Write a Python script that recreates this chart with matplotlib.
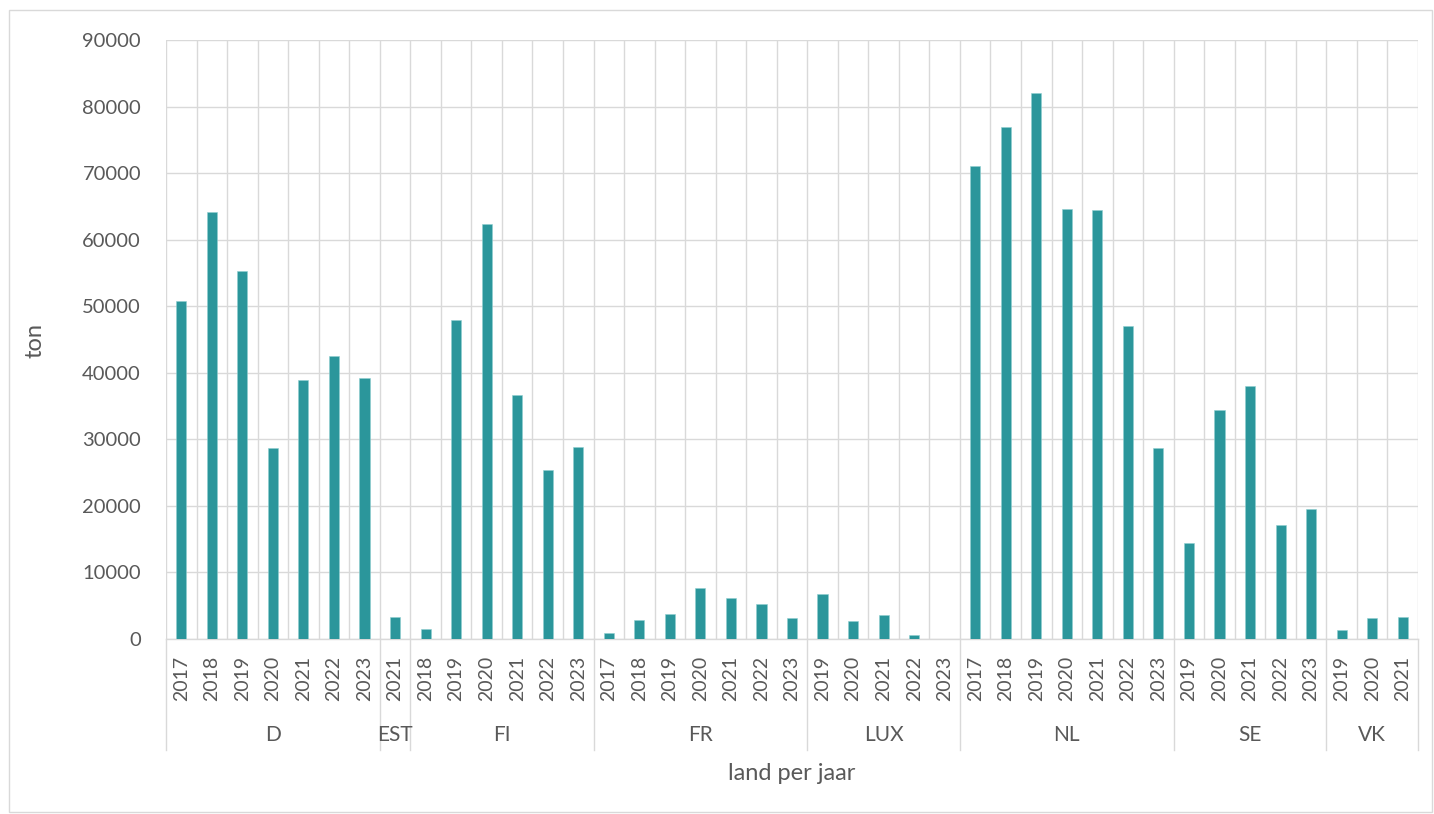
import matplotlib
matplotlib.use("Agg")
from matplotlib import pyplot as plt
from matplotlib.patches import Rectangle
import numpy as np

plt.rcParams['font.family'] = ['Lato', 'DejaVu Sans']

# data: tonnage per country per year
countries = ['D', 'EST', 'FI', 'FR', 'LUX', 'NL', 'SE', 'VK']
years = [
    ['2017', '2018', '2019', '2020', '2021', '2022', '2023'],
    ['2021'],
    ['2018', '2019', '2020', '2021', '2022', '2023'],
    ['2017', '2018', '2019', '2020', '2021', '2022', '2023'],
    ['2019', '2020', '2021', '2022', '2023'],
    ['2017', '2018', '2019', '2020', '2021', '2022', '2023'],
    ['2019', '2020', '2021', '2022', '2023'],
    ['2019', '2020', '2021'],
]
values = [
    [50800, 64200, 55300, 28700, 38900, 42500, 39200],
    [3250],
    [1450, 47950, 62400, 36700, 25400, 28900],
    [850, 2850, 3700, 7700, 6200, 5300, 3100],
    [6800, 2750, 3650, 650, 0],
    [71000, 76900, 82000, 64600, 64400, 47000, 28700],
    [14450, 34400, 38000, 17200, 19500],
    [1300, 3100, 3300],
]

bar_color = '#2b969b'
grid_color = '#d9d9d9'
text_color = '#595959'

year_labels = [y for ys in years for y in ys]
heights = [v for vs in values for v in vs]
x = np.arange(len(heights))

fig = plt.figure(figsize=(14.34, 8.14), dpi=100)
ax = fig.add_axes([166/1434, 1-639/814, (1418-166)/1434, (639-40)/814])

ax.bar(x, heights, width=0.33, color=bar_color, edgecolor='#8fcfd1', linewidth=0.4, zorder=3)

ax.set_xlim(-0.5, len(heights) - 0.5)
ax.set_ylim(0, 90000)
ax.set_yticks(np.arange(0, 90001, 10000))
ax.set_yticklabels([str(v) for v in range(0, 90001, 10000)])

ax.set_xticks(x)
ax.set_xticklabels(year_labels, rotation=90)
ax.set_xticks(np.arange(-0.5, len(heights), 1.0), minor=True)

ax.tick_params(axis='both', which='both', length=0, colors=text_color, labelsize=14)
ax.tick_params(axis='x', which='major', pad=12)
ax.tick_params(axis='y', pad=18, labelsize=14.5)

ax.grid(axis='y', color=grid_color, linewidth=1.0, zorder=0)
ax.grid(axis='x', which='minor', color=grid_color, linewidth=1.0, zorder=0)
ax.grid(axis='x', which='major', visible=False)

for side in ['top', 'right', 'left']:
    ax.spines[side].set_visible(False)
ax.spines['bottom'].set_color(grid_color)
ax.spines['bottom'].set_linewidth(1.0)

# group labels and separators under the axis
trans = ax.get_xaxis_transform()
start = 0
bounds = [-0.5]
for c, ys in zip(countries, years):
    n = len(ys)
    ax.text(start + (n - 1) / 2, -0.160, c, transform=trans, ha='center', va='center',
            fontsize=15, color=text_color)
    start += n
    bounds.append(start - 0.5)
for b in bounds:
    ax.plot([b, b], [0, -0.185], transform=trans, color=grid_color, linewidth=1.0, clip_on=False)

ax.text(0.5, (639-773)/599, 'land per jaar', transform=ax.transAxes, ha='center', va='center',
        fontsize=17, color=text_color)
fig.text(35/1434, 1-340/814, 'ton', rotation=90, ha='center', va='center', fontsize=17, color=text_color)

# chart border
fig.patches.append(Rectangle((9/1434, 1-812/814), (1432-9)/1434, (812-10)/814, transform=fig.transFigure,
                             fill=False, edgecolor=grid_color, linewidth=1.0))

fig.savefig('out.png', dpi=100)
